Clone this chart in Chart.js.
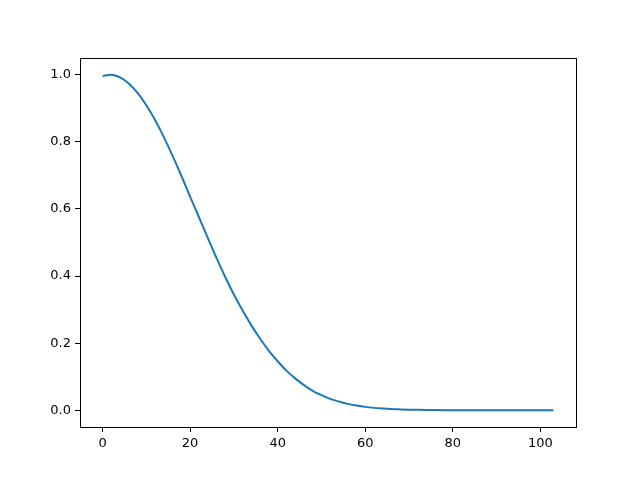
<!DOCTYPE html>
<html>
<head>
<meta charset="utf-8">
<script src="https://cdn.jsdelivr.net/npm/chart.js@4/dist/chart.umd.min.js"></script>
<style>
  html, body { margin: 0; padding: 0; background: #fff; }
  #wrap { width: 640px; height: 480px; }
</style>
</head>
<body>
<div id="wrap"><canvas id="myChart" width="640" height="480"></canvas></div>
<script>
// values
var xs = [0, 2, 4, 6, 8, 10, 12, 14, 16, 18, 20, 22, 24, 26, 28, 30, 32, 34, 36, 38,
          40, 42, 44, 46, 48, 50, 52, 54, 56, 58, 60, 62, 64, 66, 68, 70, 72, 74, 76, 78,
          80, 84, 88, 92, 96, 100, 103];
var ys = [0.996, 1.0, 0.992, 0.974, 0.946, 0.909, 0.865, 0.814, 0.758, 0.699, 0.637, 0.576, 0.515, 0.455, 0.398, 0.345, 0.297, 0.253, 0.213, 0.177,
          0.146, 0.118, 0.095, 0.075, 0.058, 0.045, 0.034, 0.026, 0.019, 0.014, 0.010, 0.007, 0.005, 0.0035, 0.0025, 0.0017, 0.0011, 0.0007, 0.0005, 0.0003,
          0.0002, 0.0001, 0, 0, 0, 0, 0];
var xTicks = [0, 20, 40, 60, 80, 100];
var yTicks = [0.0, 0.2, 0.4, 0.6, 0.8, 1.0];

var points = xs.map((x, i) => ({ x: x, y: ys[i] }));

// draws the full box around the plot area, like matplotlib spines
var boxPlugin = {
    id: 'box',
    afterDraw: (chart) => {
        const a = chart.chartArea;
        const c = chart.ctx;
        c.save();
        c.strokeStyle = '#000';
        c.lineWidth = 1;
        c.strokeRect(Math.round(a.left) + 0.5, Math.round(a.top) + 0.5,
                     Math.round(a.right - a.left), Math.round(a.bottom - a.top));
        c.restore();
    }
};

var tickFont = { family: 'DejaVu Sans', size: 13 };

const config = {
    type: 'line',
    data: {
        datasets: [{
            data: points,
            borderColor: '#1f77b4',
            borderWidth: 2,
            pointRadius: 0,
            fill: false,
            cubicInterpolationMode: 'monotone'
        }]
    },
    options: {
        responsive: false,
        animation: false,
        layout: { padding: { left: 0, top: 58, right: 64, bottom: 0 } },
        plugins: { legend: { display: false }, tooltip: { enabled: false } },
        scales: {
            x: {
                type: 'linear',
                min: -5.15,
                max: 108.15,
                afterBuildTicks: (s) => { s.ticks = xTicks.map(v => ({ value: v })); },
                afterFit: (s) => { s.height = 53; },
                grid: { drawOnChartArea: false, tickLength: 5, tickColor: '#000' },
                border: { display: false },
                ticks: { color: '#000', font: tickFont, padding: 4, maxRotation: 0,
                         callback: (v) => String(v) }
            },
            y: {
                type: 'linear',
                min: -0.05,
                max: 1.05,
                afterBuildTicks: (s) => { s.ticks = yTicks.map(v => ({ value: v })); },
                afterFit: (s) => { s.width = 80; },
                grid: { drawOnChartArea: false, tickLength: 5, tickColor: '#000' },
                border: { display: false },
                ticks: { color: '#000', font: tickFont, padding: 4,
                         callback: (v) => v.toFixed(1) }
            }
        }
    },
    plugins: [boxPlugin]
};

let ctx = document.getElementById('myChart');
let lineGraph = new Chart(ctx, config);
</script>
</body>
</html>
